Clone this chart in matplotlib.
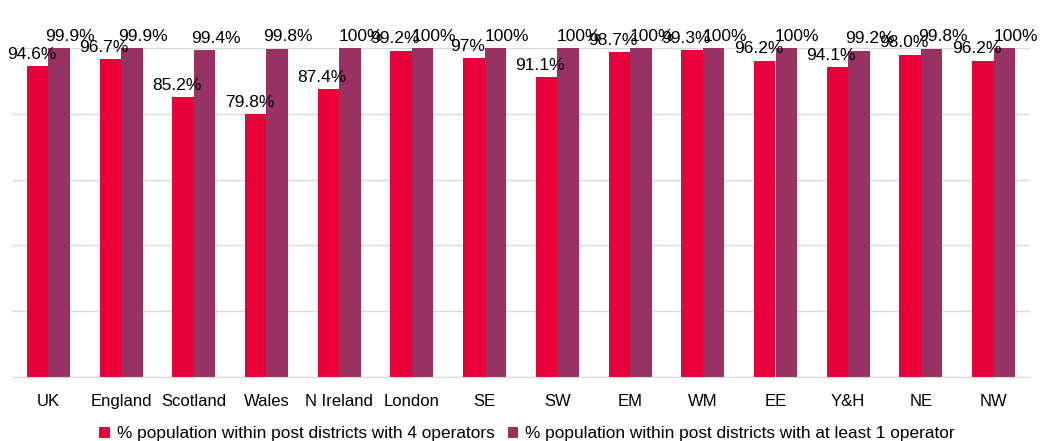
import numpy as np
import matplotlib.pyplot as plt

plt.rcParams['font.family'] = ['Liberation Sans', 'DejaVu Sans']

regions = ["UK", "England", "Scotland", "Wales", "N Ireland", "London", "SE",
           "SW", "EM", "WM", "EE", "Y&H", "NE", "NW"]
four_ops = [94.6, 96.7, 85.2, 79.8, 87.4, 99.2, 97, 91.1, 98.7, 99.3, 96.2, 94.1, 98.0, 96.2]
four_ops_dp = [1, 1, 1, 1, 1, 1, 0, 1, 1, 1, 1, 1, 1, 1]
one_op = [99.9, 99.9, 99.4, 99.8, 100, 100, 100, 100, 100, 100, 100, 99.2, 99.8, 100]
one_op_dp = [1, 1, 1, 1, 0, 0, 0, 0, 0, 0, 0, 1, 1, 0]

red = "#E9003A"
plum = "#983262"

fig = plt.figure(figsize=(10.45, 4.41), dpi=100)
ax = fig.add_axes([12 / 1045, 1 - 377 / 441, 1018 / 1045, 329 / 441])

x = np.arange(len(regions))
w = 0.295
b1 = ax.bar(x - w / 2, four_ops, w, color=red, zorder=2,
            label="% population within post districts with 4 operators")
b2 = ax.bar(x + w / 2, one_op, w, color=plum, zorder=2,
            label="% population within post districts with at least 1 operator")

# value labels sit just above each bar, nudged apart so the pairs read
for rect, v, d in zip(b1, four_ops, four_ops_dp):
    ax.annotate(f"{v:.{d}f}%", (rect.get_x() + rect.get_width() / 2, v),
                xytext=(-4.5, 3), textcoords="offset points", ha="center",
                va="bottom", fontsize=12.5, annotation_clip=False)
for rect, v, d in zip(b2, one_op, one_op_dp):
    ax.annotate(f"{v:.{d}f}%", (rect.get_x() + rect.get_width() / 2, v),
                xytext=(8, 3), textcoords="offset points", ha="center",
                va="bottom", fontsize=12.5, annotation_clip=False)

ax.set_xlim(-0.5, len(regions) - 0.5)
ax.set_ylim(0, 100)
ax.set_yticks([0, 20, 40, 60, 80, 100])
ax.yaxis.grid(True, color="#D9D9D9", linewidth=1, zorder=0)
ax.set_yticklabels([])
ax.tick_params(axis="y", length=0)
ax.set_xticks(x)
ax.set_xticklabels(regions, fontsize=12)
ax.tick_params(axis="x", length=0, pad=12)
for s in ["top", "right", "left"]:
    ax.spines[s].set_visible(False)
ax.spines["bottom"].set_color("#D9D9D9")

ax.legend(loc="center", bbox_to_anchor=(0.506, -0.173), ncol=2, frameon=False,
          fontsize=12.4, handlelength=0.6, handleheight=0.6, handletextpad=0.4,
          columnspacing=0.8, borderpad=0)

fig.savefig("out.png", dpi=100)
